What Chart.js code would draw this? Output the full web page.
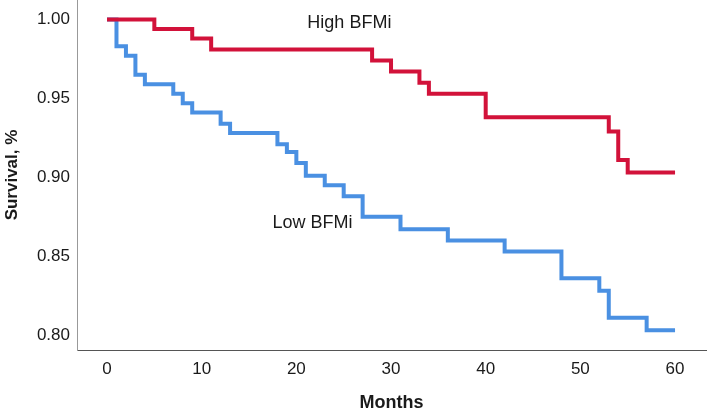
<!DOCTYPE html>
<html>
<head>
<meta charset="utf-8">
<script src="https://cdn.jsdelivr.net/npm/chart.js@4/dist/chart.umd.min.js"></script>
<style>
  body { margin: 0; background: #fff; }
  canvas { display: block; }
</style>
</head>
<body>
<canvas id="kmChart" width="709" height="414"></canvas>
<script>
// Kaplan-Meier steps (month of event, survival after it)
const highMonths = [0, 5, 9, 11, 28, 30, 33, 34, 40, 53, 54, 55, 60]
const highSurvival = [1.0, 0.994, 0.988, 0.981, 0.974, 0.967, 0.960, 0.953, 0.938, 0.929, 0.911, 0.903, 0.903]

const lowMonths = [0, 1, 2, 3, 4, 7, 8, 9, 12, 13, 18, 19, 20, 21, 23, 25, 27, 31, 36, 42, 48, 52, 53, 57, 60]
const lowSurvival = [1.0, 0.983, 0.977, 0.965, 0.959, 0.953, 0.947, 0.941, 0.934, 0.928, 0.921, 0.916, 0.909, 0.901, 0.895, 0.888, 0.875, 0.867, 0.860, 0.853, 0.836, 0.828, 0.811, 0.803, 0.803]

const xTicks = [0, 10, 20, 30, 40, 50, 60]
const yTicks = [0.80, 0.85, 0.90, 0.95, 1.00]

const groupLabels = [
    { text: "High BFMi", x: 25.6, y: 0.998 },
    { text: "Low BFMi", x: 21.7, y: 0.871 }
]

const fontFamily = "Arial, 'Liberation Sans', sans-serif"

function toPoints(xs, ys) {
    return xs.map((x, i) => ({ x: x, y: ys[i] }))
}

// draws the group names inside the plot
const groupLabelPlugin = {
    id: "groupLabels",
    afterDatasetsDraw(chart) {
        const ctx = chart.ctx
        ctx.save()
        ctx.fillStyle = "#1a1a1a"
        ctx.font = "18px " + fontFamily
        ctx.textAlign = "center"
        ctx.textBaseline = "middle"
        groupLabels.forEach(l => {
            ctx.fillText(l.text, chart.scales.x.getPixelForValue(l.x), chart.scales.y.getPixelForValue(l.y))
        })
        ctx.restore()
    }
}

new Chart(document.getElementById("kmChart"), {
    type: "line",
    data: {
        datasets: [
            {
                label: "High BFMi",
                data: toPoints(highMonths, highSurvival),
                borderColor: "#d2123a",
                borderWidth: 4,
                stepped: true,
                pointRadius: 0,
                fill: false
            },
            {
                label: "Low BFMi",
                data: toPoints(lowMonths, lowSurvival),
                borderColor: "#4a90e2",
                borderWidth: 4,
                stepped: true,
                pointRadius: 0,
                fill: false
            }
        ]
    },
    options: {
        responsive: false,
        devicePixelRatio: 1,
        animation: false,
        layout: { padding: { top: 0, right: 3, left: 0, bottom: 0 } },
        plugins: {
            legend: { display: false },
            tooltip: { enabled: false }
        },
        scales: {
            x: {
                type: "linear",
                min: -3.17,
                max: 63.27,
                afterBuildTicks: axis => { axis.ticks = xTicks.map(v => ({ value: v })) },
                afterFit: axis => {
                    axis.height = 64
                    axis.paddingLeft = 0
                    axis.paddingRight = 0
                },
                grid: { display: false, drawTicks: false },
                border: { display: true, color: "#555", width: 1 },
                ticks: {
                    padding: 9,
                    color: "#1a1a1a",
                    font: { family: fontFamily, size: 17 },
                    maxRotation: 0
                },
                title: {
                    display: true,
                    text: "Months",
                    color: "#1a1a1a",
                    font: { family: fontFamily, size: 18, weight: "bold" },
                    padding: { top: -4, bottom: 0 }
                }
            },
            y: {
                type: "linear",
                min: 0.7905,
                max: 1.0124,
                afterBuildTicks: axis => { axis.ticks = yTicks.map(v => ({ value: v })) },
                afterFit: axis => {
                    axis.width = 77
                    axis.paddingTop = 0
                    axis.paddingBottom = 0
                },
                grid: { display: false, drawTicks: false },
                border: { display: true, color: "#999", width: 1 },
                ticks: {
                    padding: 7,
                    color: "#1a1a1a",
                    font: { family: fontFamily, size: 17 },
                    callback: v => v.toFixed(2)
                },
                title: {
                    display: true,
                    text: "Survival, %",
                    color: "#1a1a1a",
                    font: { family: fontFamily, size: 17, weight: "bold" },
                    padding: { top: 2, bottom: 0 }
                }
            }
        }
    },
    plugins: [groupLabelPlugin]
})
</script>
</body>
</html>
